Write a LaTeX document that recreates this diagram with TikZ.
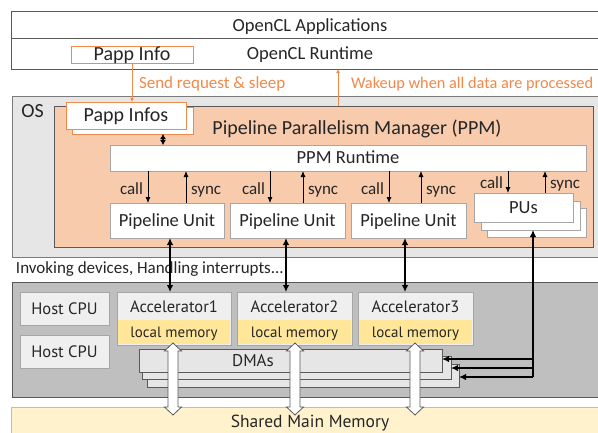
\documentclass[tikz,border=0pt]{standalone}
\usepackage{fontspec}
\setmainfont{Carlito}
\newfontfamily\hwfont{PT Sans}
\usetikzlibrary{arrows.meta}

\definecolor{peach}{HTML}{F8CBAD}
\definecolor{osgrey}{HTML}{E7E6E6}
\definecolor{hwgrey}{HTML}{BFBFBF}
\definecolor{boxgrey}{HTML}{EFEFEF}
\definecolor{dmagrey}{HTML}{E6E6E6}
\definecolor{lmem}{HTML}{FFE699}
\definecolor{shmem}{HTML}{FFF2CC}
\definecolor{gold}{HTML}{FFC000}
\definecolor{orng}{HTML}{F0894A}
\definecolor{edge}{HTML}{A6A6A6}
\definecolor{darkedge}{HTML}{595959}
\definecolor{ink}{HTML}{262626}

% white double-headed block arrow between a local memory and the shared memory
\newcommand\fatarr[3]{%
  \draw[fill=white, draw=darkedge, line width=0.8pt, line join=miter]
    (#1,#2) -- (#1+8.5,#2+8) -- (#1+5,#2+8) -- (#1+5,#3-8) -- (#1+8.5,#3-8)
    -- (#1,#3) -- (#1-8.5,#3-8) -- (#1-5,#3-8) -- (#1-5,#2+8) -- (#1-8.5,#2+8) -- cycle;}

\begin{document}
\begin{tikzpicture}[x=1pt, y=-1pt,
  every node/.style={inner sep=0pt, outer sep=0pt, text=ink},
  txt/.style={font=\fontsize{18.5}{20}\selectfont, text height=11.9pt, text depth=0pt},
  big/.style={font=\fontsize{20}{22}\selectfont, text height=12.9pt, text depth=0pt},
  lbl/.style={font=\fontsize{17}{19}\selectfont},
  hwtxt/.style={font=\hwfont\fontsize{16.5}{18}\selectfont, text height=11.5pt, text depth=0pt},
  layer/.style={draw=darkedge, line width=0.8pt, fill=white},
  obox/.style={draw=orng, line width=0.9pt, fill=white},
  wbox/.style={draw=edge, line width=0.8pt, fill=white},
  hwbox/.style={draw=edge, line width=0.8pt, fill=boxgrey},
  dmabox/.style={draw=darkedge, line width=0.7pt, fill=dmagrey},
  arr/.style={-{Latex[length=6pt,width=5pt]}, line width=0.8pt, draw=black},
  oarr/.style={-{Latex[length=4pt,width=4pt]}, line width=0.8pt, draw=orng},
  tarr/.style={-{Latex[length=7pt,width=6.5pt]}, line width=1.7pt, draw=black},
  dtarr/.style={{Latex[length=7pt,width=6.5pt]}-{Latex[length=7pt,width=6.5pt]}, line width=1.7pt, draw=black},
  sarr/.style={{Latex[length=5pt,width=6pt]}-{Latex[length=5pt,width=6pt]}, line width=1.5pt, draw=black}]

\clip (0,0) rectangle (598,432);
\fill[white] (0,0) rectangle (598,432);

% ---------- OpenCL layers ----------
\node[layer, minimum width=598pt, minimum height=27pt] (app) at (310,24.5) {};
\node[txt] (apptxt) at (310,26) {OpenCL Applications};
\node[layer, txt, minimum width=598pt, minimum height=31pt] (ocl) at (310,53.5) {OpenCL Runtime};
\node[obox, big, minimum width=122pt, minimum height=17pt] (pinfo) at (132,54.5) {Papp Info};

% ---------- shared memory (drawn early, block arrows go over it) ----------
\node[fill=shmem, draw=gold, line width=0.9pt, minimum width=599pt, minimum height=35pt] (shm) at (310.5,424.5) {};
\node[font=\hwfont\fontsize{17.5}{19}\selectfont, anchor=base] (shmtxt) at (310,427.5) {Shared Main Memory};

% ---------- OS ----------
\node[draw=darkedge!80, line width=0.8pt, fill=osgrey, minimum width=598pt, minimum height=161.5pt] (os) at (311,176.75) {};
\node[big] (oslbl) at (32.5,111) {OS};

% ---------- PPM ----------
\node[draw=darkedge, line width=0.8pt, fill=peach, minimum width=539pt, minimum height=141pt] (ppm) at (323.5,176.5) {};
\node[big] (ppmtitle) at (357,128) {Pipeline Parallelism Manager (PPM)};

\node[obox, minimum width=121pt, minimum height=27pt] (infosback) at (132.5,120.5) {};
\node[obox, big, minimum width=120pt, minimum height=27pt] (infos) at (126,115.5) {Papp Infos};

\node[wbox, txt, minimum width=476pt, minimum height=26pt] (ppmrt) at (348,158) {PPM Runtime};

\node[wbox, txt, minimum width=114pt, minimum height=35pt] (pu1) at (167,220.5) {Pipeline Unit};
\node[wbox, txt, minimum width=115pt, minimum height=35pt] (pu2) at (287.5,220.5) {Pipeline Unit};
\node[wbox, txt, minimum width=115pt, minimum height=35pt] (pu3) at (408.5,220.5) {Pipeline Unit};

\node[wbox, minimum width=99pt, minimum height=29pt] (pusback) at (536.5,222.5) {};
\node[wbox, minimum width=99pt, minimum height=29pt] (pusmid) at (530.5,215.5) {};
\node[wbox, txt, minimum width=99pt, minimum height=29pt] (pus) at (523.5,207.5) {PUs};

% call / sync between runtime and units
\draw[arr] (ppmrt.south -| 148,0) -- (pu1.north -| 148,0);
\draw[arr] (pu1.north -| 186,0) -- (ppmrt.south -| 186,0);
\draw[arr] (ppmrt.south -| 270,0) -- (pu2.north -| 270,0);
\draw[arr] (pu2.north -| 303,0) -- (ppmrt.south -| 303,0);
\draw[arr] (ppmrt.south -| 389,0) -- (pu3.north -| 389,0);
\draw[arr] (pu3.north -| 421,0) -- (ppmrt.south -| 421,0);
\draw[arr] (ppmrt.south -| 508,0) -- (pus.north -| 508,0);
\draw[arr] (pus.north -| 545,0) -- (ppmrt.south -| 545,0);

\node[lbl, anchor=base east] (c1) at (143,194) {call};
\node[lbl, anchor=base west] (s1) at (191,194) {sync};
\node[lbl, anchor=base east] (c2) at (265,194) {call};
\node[lbl, anchor=base west] (s2) at (308,194) {sync};
\node[lbl, anchor=base east] (c3) at (384,194) {call};
\node[lbl, anchor=base west] (s3) at (426,194) {sync};
\node[lbl, anchor=base east] (c4) at (503,188) {call};
\node[lbl, anchor=base west] (s4) at (550,188) {sync};

\draw[sarr] (infosback.south -| 163,0) -- (ppmrt.north -| 163,0);

% orange request / wakeup
\draw[oarr] (pinfo.south) -- (infos.north -| pinfo.south);
\draw[oarr] (ppm.north -| 338,0) -- (ocl.south -| 338,0);
\node[lbl, text=orng, anchor=base west] (send) at (139,88) {Send request \& sleep};
\node[lbl, text=orng, anchor=base west, font=\fontsize{16.3}{18}\selectfont] (wake) at (351,88) {Wakeup when all data are processed};

% ---------- hardware ----------
\node[lbl, anchor=base west] (inv) at (16,273) {Invoking devices, Handling interrupts...};

\node[draw=darkedge, line width=0.8pt, fill=hwgrey, minimum width=598pt, minimum height=115pt] (hw) at (311,339.5) {};

\node[hwbox, hwtxt, minimum width=89pt, minimum height=33pt] (cpu1) at (64.5,308.5) {Host CPU};
\node[hwbox, hwtxt, minimum width=89pt, minimum height=33pt] (cpu2) at (64.5,351.5) {Host CPU};

\foreach \n/\cx/\w in {1/174/114, 2/294.5/115, 3/415.5/115}{
  \node[hwbox, minimum width=\w pt, minimum height=53pt] (acc\n) at (\cx,318.5) {};
  \node[fill=lmem, minimum width=\w pt - 1.4pt, minimum height=24.5pt, anchor=south,
        font=\hwfont\fontsize{15}{17}\selectfont, text height=10.5pt, text depth=0pt] (mem\n) at ([yshift=0.7pt]acc\n.south) {local memory};
  \node[hwtxt] (acclbl\n) at ([yshift=-14.5pt]acc\n.north) {Accelerator\n};
}

\node[dmabox, minimum width=312pt, minimum height=23pt] (dmaback) at (303,375.5) {};
\node[dmabox, minimum width=309pt, minimum height=23pt] (dmamid) at (296.5,367.5) {};
\node[dmabox, minimum width=303pt, minimum height=23pt] (dma) at (290.5,360.5) {};
\node[hwtxt, font=\hwfont\fontsize{17}{19}\selectfont] (dmalbl) at (253,361) {DMAs};

% block arrows local memory <-> shared memory
\fatarr{173}{343}{415}
\fatarr{295}{343}{415}
\fatarr{415}{343}{415}

% pipeline units <-> accelerators
\draw[dtarr] (pu1.south -| 170,0) -- (acc1.north -| 170,0);
\draw[dtarr] (pu2.south -| 286,0) -- (acc2.north -| 286,0);
\draw[dtarr] (pu3.south -| 405,0) -- (acc3.north -| 405,0);

% PUs -> DMA engines
\coordinate (jn) at (533,377);
\coordinate (j2) at (533,368);
\coordinate (j1) at (533,359);
\draw[line width=1.7pt] (jn) -- (j1);
\draw[tarr] (j1) -- (jn |- pusmid.south);
\draw[tarr] (j1) -- (dma.east |- j1);
\draw[tarr] (j2) -- (dmamid.east |- j2);
\draw[tarr, line join=miter] (jn) -- (dmaback.east |- jn);

\end{tikzpicture}
\end{document}
